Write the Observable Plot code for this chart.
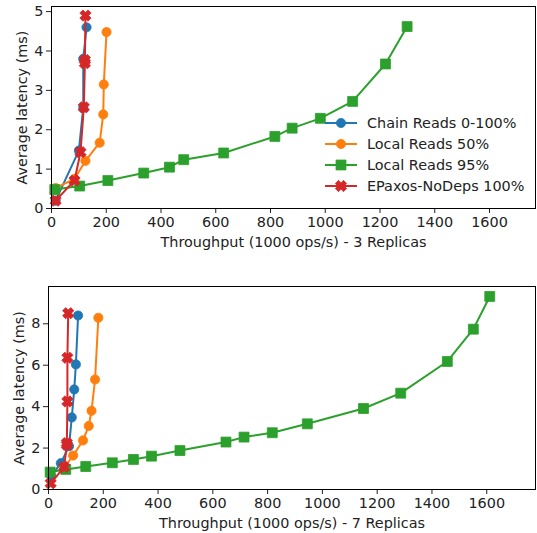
<!DOCTYPE html>
<html>
<head>
<meta charset="utf-8">
<script src="https://cdn.jsdelivr.net/npm/d3@7"></script>
<script src="https://cdn.jsdelivr.net/npm/@observablehq/plot@0.6"></script>
<style>
  html, body { margin: 0; padding: 0; background: #fff; }
  #wrap { position: relative; width: 537px; height: 533px; font-family: "DejaVu Sans", sans-serif; }
  #wrap svg { display: block; }
  .legend { position: absolute; left: 325px; top: 112px; font-size: 14.4px; color: #222; }
  .legend .row { display: flex; align-items: center; height: 21.2px; }
  .legend svg { margin-right: 10px; }
</style>
</head>
<body>
<div id="wrap"></div>
<script>
// ---- data ----
const seriesNames = ["Chain Reads 0-100%", "Local Reads 50%", "Local Reads 95%", "EPaxos-NoDeps 100%"];
const seriesColors = ["#1f77b4", "#ff7f0e", "#2ca02c", "#d62728"];
const xTicks = [0, 200, 400, 600, 800, 1000, 1200, 1400, 1600];
const yTicks3 = [0, 1, 2, 3, 4, 5];
const yTicks7 = [0, 2, 4, 6, 8];
const xLabel3 = "Throughput (1000 ops/s) - 3 Replicas";
const xLabel7 = "Throughput (1000 ops/s) - 7 Replicas";
const yLabel = "Average latency (ms)";

// 3 replicas: [throughput, latency]
const chain3 = [[15, 0.2], [100, 1.47], [116, 2.56], [116, 3.8], [128, 4.6]];
const local50_3 = [[15, 0.52], [84, 0.75], [124, 1.21], [176, 1.67], [189, 2.39], [191, 3.15], [201, 4.48]];
const local95_3 = [[12, 0.48], [103, 0.57], [206, 0.71], [337, 0.9], [431, 1.05], [483, 1.24], [629, 1.41],
                   [816, 1.83], [879, 2.04], [982, 2.29], [1100, 2.72], [1220, 3.67], [1299, 4.62]];
const epaxos3 = [[15, 0.2], [84, 0.71], [106, 1.43], [118, 2.57], [122, 3.69], [122, 3.77], [124, 4.9]];

// 7 replicas
const chain7 = [[10, 0.65], [45, 1.27], [75, 2.09], [85, 3.48], [94, 4.83], [100, 6.04], [108, 8.4]];
const local50_7 = [[57, 1.05], [90, 1.64], [126, 2.37], [147, 3.07], [157, 3.8], [170, 5.31], [182, 8.29]];
const local95_7 = [[6, 0.84], [63, 0.97], [136, 1.11], [233, 1.29], [310, 1.45], [376, 1.61], [480, 1.88],
                   [648, 2.29], [714, 2.53], [817, 2.74], [945, 3.17], [1150, 3.91], [1286, 4.65],
                   [1456, 6.18], [1551, 7.74], [1611, 9.32]];
const epaxos7 = [[8, 0.3], [57, 1.08], [67, 2.15], [67, 2.24], [69, 4.25], [69, 6.36], [72, 8.51]];

// filled "X" marker like matplotlib 'X'
const filledX = {
  draw(ctx, size) {
    const r = Math.sqrt(size / Math.PI);
    const L = r * 1.25, w = r * 0.48;
    const pts = [[-w,-L],[w,-L],[w,-w],[L,-w],[L,w],[w,w],[w,L],[-w,L],[-w,w],[-L,w],[-L,-w],[-w,-w]];
    const c = Math.SQRT1_2;
    pts.forEach(([x, y], i) => {
      const px = (x - y) * c, py = (x + y) * c;
      if (i === 0) ctx.moveTo(px, py); else ctx.lineTo(px, py);
    });
    ctx.closePath();
  }
};
const symbols = [d3.symbolCircle, d3.symbolCircle, d3.symbolSquare, filledX];
const radii = [4.6, 4.6, 5.6, 4.6];

function seriesMarks(data, i) {
  return [
    Plot.line(data, {x: d => d[0], y: d => d[1], stroke: seriesColors[i], strokeWidth: 2}),
    Plot.dot(data, {x: d => d[0], y: d => d[1], fill: seriesColors[i], stroke: seriesColors[i],
                    strokeWidth: 0.8, symbol: symbols[i], r: radii[i]})
  ];
}

function panel({sets, xDomain, yDomain, yTicks, xLabel, height, mt, mb, ml}) {
  return Plot.plot({
    width: 537, height,
    marginLeft: ml, marginRight: 2, marginTop: mt, marginBottom: mb,
    style: {fontFamily: "DejaVu Sans, sans-serif", fontSize: "14.4px", color: "#222", background: "white"},
    x: {domain: xDomain},
    y: {domain: yDomain},
    marks: [
      Plot.axisX({ticks: xTicks, tickFormat: d => String(d), tickSize: 5, tickPadding: 3,
                  label: xLabel, labelAnchor: "center", labelArrow: "none", labelOffset: 38}),
      Plot.axisY({ticks: yTicks, tickFormat: d => String(d), tickSize: 5, tickPadding: 3,
                  label: yLabel, labelAnchor: "center", labelArrow: "none", labelOffset: 35}),
      ...sets.flatMap((s, i) => seriesMarks(s, i)),
      Plot.frame({stroke: "#000", strokeWidth: 1})
    ]
  });
}

const wrap = document.getElementById("wrap");
wrap.appendChild(panel({sets: [chain3, local50_3, local95_3, epaxos3], xDomain: [0, 1768], yDomain: [0, 5.13],
  yTicks: yTicks3, xLabel: xLabel3, height: 265, mt: 6, mb: 57, ml: 51}));
wrap.appendChild(panel({sets: [chain7, local50_7, local95_7, epaxos7], xDomain: [0, 1778], yDomain: [0, 9.8],
  yTicks: yTicks7, xLabel: xLabel7, height: 268, mt: 21, mb: 44, ml: 48}));

// legend
const legend = document.createElement("div");
legend.className = "legend";
seriesNames.forEach((name, i) => {
  const row = document.createElement("div");
  row.className = "row";
  const svg = d3.create("svg").attr("width", 32).attr("height", 14);
  svg.append("line").attr("x1", 0).attr("x2", 32).attr("y1", 7).attr("y2", 7)
    .attr("stroke", seriesColors[i]).attr("stroke-width", 2);
  svg.append("path").attr("transform", "translate(16,7)")
    .attr("d", d3.symbol(symbols[i], Math.PI * radii[i] * radii[i])())
    .attr("fill", seriesColors[i]).attr("stroke", seriesColors[i]).attr("stroke-width", 0.8);
  row.appendChild(svg.node());
  const span = document.createElement("span");
  span.textContent = name;
  row.appendChild(span);
  legend.appendChild(row);
});
wrap.appendChild(legend);
</script>
</body>
</html>
